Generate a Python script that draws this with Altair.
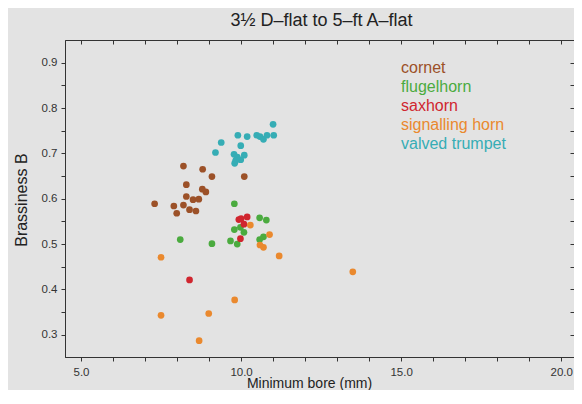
import altair as alt
import pandas as pd

FONT = "Liberation Sans, Arial, Helvetica, sans-serif"

categories = ["cornet", "flugelhorn", "saxhorn", "signalling horn", "valved trumpet"]
colors = ["#9c5128", "#4bab3f", "#d0262f", "#ea892e", "#36adb5"]

cornet_x = [8.20, 8.80, 9.09, 10.10, 8.29, 8.79, 8.90, 8.29, 8.50, 8.68, 7.30, 7.90, 8.20, 8.39, 8.59, 7.99]
cornet_y = [0.672, 0.665, 0.649, 0.649, 0.631, 0.621, 0.615, 0.605, 0.598, 0.599, 0.589, 0.584, 0.586, 0.576, 0.573, 0.568]

flugel_x = [9.79, 8.10, 9.09, 10.58, 10.79, 9.79, 9.98, 10.09, 9.67, 9.88, 10.58, 10.70]
flugel_y = [0.589, 0.510, 0.501, 0.558, 0.553, 0.532, 0.537, 0.526, 0.507, 0.500, 0.510, 0.516]

sax_x = [9.93, 10.00, 10.19, 10.09, 9.98, 8.39]
sax_y = [0.554, 0.556, 0.560, 0.544, 0.512, 0.421]

signal_x = [10.29, 10.89, 10.59, 10.70, 11.19, 7.50, 9.80, 7.50, 8.99, 8.69, 13.49]
signal_y = [0.542, 0.521, 0.498, 0.493, 0.474, 0.471, 0.377, 0.343, 0.347, 0.287, 0.439]

trumpet_x = [11.00, 9.38, 9.20, 9.90, 10.19, 9.99, 10.49, 10.59, 10.70, 10.81, 11.02, 9.78, 9.88, 10.10, 9.80, 9.99, 9.88, 9.83]
trumpet_y = [0.764, 0.724, 0.702, 0.740, 0.737, 0.717, 0.740, 0.737, 0.731, 0.740, 0.740, 0.698, 0.692, 0.696, 0.678, 0.686, 0.688, 0.684]

x_ticks = list(range(5, 21))
y_ticks = [0.3, 0.35, 0.4, 0.45, 0.5, 0.55, 0.6, 0.65, 0.7, 0.75, 0.8, 0.85, 0.9]

series = [
    ("cornet", cornet_x, cornet_y),
    ("flugelhorn", flugel_x, flugel_y),
    ("saxhorn", sax_x, sax_y),
    ("signalling horn", signal_x, signal_y),
    ("valved trumpet", trumpet_x, trumpet_y),
]
rows = []
for name, xs, ys in series:
    for xv, yv in zip(xs, ys):
        rows.append({"instrument": name, "bore": xv, "B": yv})
df = pd.DataFrame(rows)

xscale = alt.Scale(domain=[4.5, 20.4], nice=False, zero=False)
yscale = alt.Scale(domain=[0.2511, 0.95], nice=False, zero=False)
cscale = alt.Scale(domain=categories, range=colors)

label_color_expr = ""
for c, col in zip(categories, colors):
    label_color_expr += f"datum.value == '{c}' ? '{col}' : "
label_color_expr += "'#333'"

points = alt.Chart(df).mark_circle(size=45, opacity=1).encode(
    x=alt.X("bore:Q", scale=xscale, axis=alt.Axis(
        values=x_ticks,
        labelExpr="datum.value % 5 == 0 ? format(datum.value, '.1f') : ''",
        title="Minimum bore (mm)", titleX=244, titleY=30,
        titleBaseline="alphabetic", titleFontSize=14,
        tickSize=4, labelPadding=5, labelFlush=False, labelOverlap=False,
    )),
    y=alt.Y("B:Q", scale=yscale, axis=alt.Axis(
        values=y_ticks,
        labelExpr="abs(datum.value * 10 - round(datum.value * 10)) < 0.001 ? format(datum.value, '.1f') : ''",
        title="Brassiness B", titleX=-38.6, titleY=159.6, titleAngle=270,
        titleBaseline="alphabetic", titleFontSize=16, titleAlign="center",
        tickSize=4, labelPadding=4, labelFlush=False, labelOverlap=False,
    )),
    color=alt.Color("instrument:N", scale=cscale, legend=alt.Legend(
        title=None, orient="none", legendX=320, legendY=19.5,
        symbolSize=0, symbolOpacity=0, symbolStrokeWidth=0, labelOffset=0,
        labelFontSize=16, labelFont=FONT, rowPadding=3, padding=0,
        labelLimit=300, labelColor=alt.ExprRef(expr=label_color_expr),
    )),
)

frame = alt.Chart(df).mark_circle(opacity=0, size=1).encode(
    x=alt.X("bore:Q", scale=xscale, axis=alt.Axis(
        orient="top", values=x_ticks, labels=False, domain=False, title="",
        tickSize=alt.ExprRef(expr="-4"),
    )),
    y=alt.Y("B:Q", scale=yscale, axis=alt.Axis(
        orient="right", values=y_ticks, labels=False, domain=False, title="",
        tickSize=alt.ExprRef(expr="-4"),
    )),
)

chart = alt.layer(points, frame).resolve_axis(
    x="independent", y="independent"
).properties(
    width=509, height=317,
    autosize=alt.AutoSizeParams(type="none"),
    padding={"left": 57, "top": 32, "right": 0, "bottom": 33},
    background="#e3e3e3",
    title=alt.Title("3½ D–flat to 5–ft A–flat", fontSize=18, font=FONT,
                    fontWeight="normal", color="#222", anchor="middle",
                    baseline="alphabetic", offset=13, dy=17, dx=2),
).configure_view(
    stroke="#333", strokeWidth=1
).configure_axis(
    grid=False, domainColor="#333", tickColor="#333", labelColor="#333",
    titleColor="#222", labelFont=FONT, titleFont=FONT, labelFontSize=11.5,
    titleFontWeight="normal", domainWidth=1, tickWidth=1,
)

chart.save("out.html", embed_options={"renderer": "svg", "actions": False})
